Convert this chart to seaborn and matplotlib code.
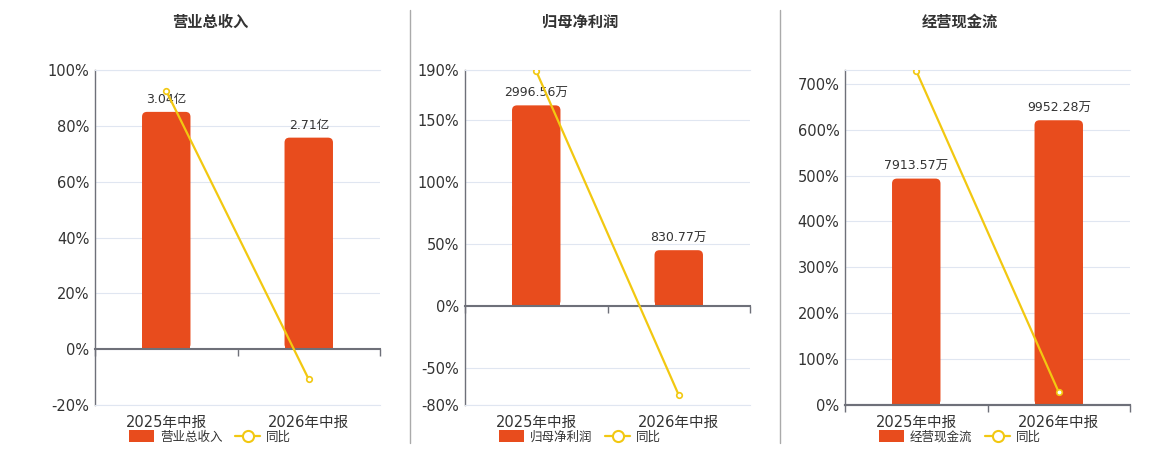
import numpy as np
import matplotlib
matplotlib.use('Agg')
import matplotlib.pyplot as plt
from matplotlib.lines import Line2D
from matplotlib.patches import FancyBboxPatch
import seaborn as sns

# data
categories = ['2025年中报', '2026年中报']

titles = ['营业总收入', '归母净利润', '经营现金流']

revenue = [3.04, 2.71]
revenue_labels = ['3.04亿', '2.71亿']
revenue_yoy = [92.5, -10.8]

profit = [2996.56, 830.77]
profit_labels = ['2996.56万', '830.77万']
profit_yoy = [189, -72]

cash = [7913.57, 9952.28]
cash_labels = ['7913.57万', '9952.28万']
cash_yoy = [728, 28]

pct_limits = [(-20, 100), (-80, 190), (0, 730)]
pct_ticks = [[-20, 0, 20, 40, 60, 80, 100],
             [-80, -50, 0, 50, 100, 150, 190],
             [0, 100, 200, 300, 400, 500, 600, 700]]

BAR = '#E84C1D'
LINE = '#F2C811'
GRID = '#E0E6F1'
AXIS = '#6E7079'
TEXT = '#333333'

sns.set_theme(style='white')
plt.rcParams['font.family'] = ['DejaVu Sans', 'Noto Sans CJK SC']

fig = plt.figure(figsize=(11.6, 4.5), dpi=100)

panels = [(revenue, revenue_labels, revenue_yoy),
          (profit, profit_labels, profit_yoy),
          (cash, cash_labels, cash_yoy)]
lefts = [95, 465, 845]
centers = [210, 580, 960]

for i, (vals, labels, yoy) in enumerate(panels):
    ax_bar = fig.add_axes([lefts[i] / 1160, 0.1, 285 / 1160, 335 / 450])
    ax_pct = ax_bar.twinx()

    lo, hi = pct_limits[i]
    bar_hi = max(vals) / 0.85
    scale = bar_hi / hi
    ax_bar.set_ylim(lo * scale, bar_hi)
    ax_pct.set_ylim(lo, hi)

    sns.barplot(x=categories, y=vals, ax=ax_bar, color=BAR, width=0.34,
                saturation=1, zorder=2)
    # rounded top corners
    asp = (bar_hi - lo * scale) / 335 * 285 / 2.0
    for p in list(ax_bar.patches):
        x, y, w, h = p.get_x(), p.get_y(), p.get_width(), p.get_height()
        p.remove()
        fb = FancyBboxPatch((x, y), w, h,
                            boxstyle='round,pad=0,rounding_size=0.035',
                            mutation_aspect=asp, fc=BAR, ec='none', zorder=2)
        ax_bar.add_patch(fb)
        ax_bar.add_patch(plt.Rectangle((x, y), w, h * 0.5, fc=BAR, ec='none', zorder=2))
    for j, lab in enumerate(labels):
        ax_bar.annotate(lab, (j, vals[j]), xytext=(0, 4), textcoords='offset points',
                        ha='center', va='bottom', fontsize=9, color=TEXT, zorder=3)

    # grid on bar axis at percent tick positions
    ax_bar.set_yticks(np.array(pct_ticks[i]) * scale)
    ax_bar.tick_params(axis='y', left=False, right=False, labelleft=False, labelright=False)
    ax_bar.grid(axis='y', color=GRID, linewidth=0.8)
    ax_bar.set_axisbelow(True)

    # percent line
    sns.pointplot(x=categories, y=yoy, ax=ax_pct, color=LINE, markers='o',
                  linestyles='-', zorder=5)
    for ln in ax_pct.lines:
        ln.set_markerfacecolor('white')
        ln.set_markeredgecolor(LINE)
        ln.set_markersize(4)
        ln.set_markeredgewidth(1.2)
        ln.set_linewidth(1.6)
    ax_pct.set_ylim(lo, hi)
    ax_pct.yaxis.tick_left()
    ax_pct.set_yticks(pct_ticks[i])
    ax_pct.set_yticklabels([f'{t}%' for t in pct_ticks[i]])
    ax_pct.tick_params(axis='y', length=0, labelsize=10.5, labelcolor=TEXT, pad=4)
    ax_pct.set_xlim(-0.5, 1.5)
    ax_bar.set_xlim(-0.5, 1.5)

    # x axis: zero line on bar axis, labels on percent axis
    ax_bar.spines['bottom'].set_position(('data', 0))
    ax_bar.spines['bottom'].set_color(AXIS)
    ax_bar.spines['bottom'].set_linewidth(1.5)
    ax_bar.spines['bottom'].set_zorder(4)
    ax_bar.set_xticks([-0.5, 0.5, 1.5], minor=True)
    ax_bar.tick_params(axis='x', which='minor', bottom=True, length=5, color=AXIS, width=1)
    ax_bar.tick_params(axis='x', which='major', length=0, labelbottom=False)
    for s in ['top', 'right', 'left']:
        ax_bar.spines[s].set_visible(False)

    ax_pct.xaxis.set_visible(True)
    ax_pct.set_xticks([0, 1])
    ax_pct.set_xticklabels(categories)
    ax_pct.tick_params(axis='x', which='both', bottom=False, top=False,
                       labelbottom=True, labelsize=10.5, labelcolor=TEXT, pad=1)
    ax_pct.spines['bottom'].set_color(GRID if lo < 0 else AXIS)
    ax_pct.spines['bottom'].set_linewidth(0.8 if lo < 0 else 1.5)
    ax_pct.spines['right'].set_visible(False)
    ax_pct.spines['top'].set_color(GRID)
    ax_pct.spines['top'].set_linewidth(0.8)
    ax_pct.spines['left'].set_color(AXIS)
    ax_pct.spines['left'].set_linewidth(1.0)
    ax_pct.set_xlabel('')
    ax_pct.set_ylabel('')
    ax_bar.set_xlabel('')
    ax_bar.set_ylabel('')

    fig.text(centers[i] / 1160, 1 - 22 / 450, titles[i], ha='center', va='center',
             fontsize=11, fontweight='bold', color=TEXT)

    handles = [FancyBboxPatch((0, 0), 1, 1, boxstyle='round,pad=0.1', fc=BAR, ec='none'),
               Line2D([], [], color=LINE, linewidth=1.6, marker='o', markersize=8,
                      markerfacecolor='white', markeredgecolor=LINE, markeredgewidth=1.5)]
    ax_pct.legend(handles, [titles[i], '同比'], loc='center',
                  bbox_to_anchor=(centers[i] / 1160, 1 - 437 / 450),
                  bbox_transform=fig.transFigure, ncol=2, frameon=False,
                  fontsize=9, labelcolor=TEXT, handlelength=2.0, handleheight=1.1,
                  columnspacing=1.0, handletextpad=0.5, borderpad=0)

# vertical separators
for xs in [410, 780]:
    fig.add_artist(Line2D([xs / 1160, xs / 1160], [1 - 10 / 450, 1 - 443 / 450],
                          transform=fig.transFigure, color='#AAAAAA', linewidth=1))

fig.savefig('out.png', dpi=100)
